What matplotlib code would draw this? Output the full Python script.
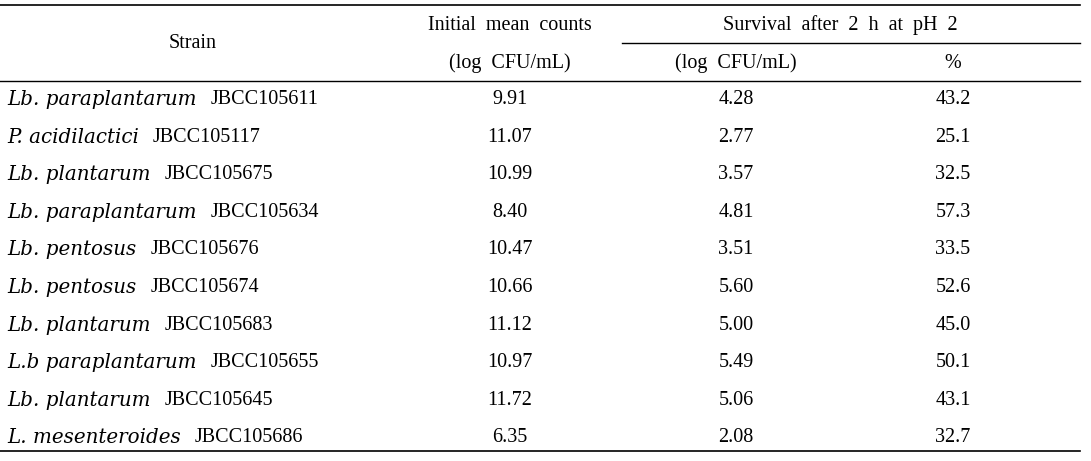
import matplotlib
matplotlib.use("Agg")
import matplotlib.pyplot as plt

species = ["Lb. paraplantarum", "P. acidilactici", "Lb. plantarum", "Lb. paraplantarum",
           "Lb. pentosus", "Lb. pentosus", "Lb. plantarum", "L.b paraplantarum",
           "Lb. plantarum", "L. mesenteroides"]
strain_ids = ["JBCC105611", "JBCC105117", "JBCC105675", "JBCC105634", "JBCC105676",
              "JBCC105674", "JBCC105683", "JBCC105655", "JBCC105645", "JBCC105686"]
initial_counts = ["9.91", "11.07", "10.99", "8.40", "10.47", "10.66", "11.12", "10.97", "11.72", "6.35"]
survival_log = ["4.28", "2.77", "3.57", "4.81", "3.51", "5.60", "5.00", "5.49", "5.06", "2.08"]
survival_pct = ["43.2", "25.1", "32.5", "57.3", "33.5", "52.6", "45.0", "50.1", "43.1", "32.7"]

W, H = 1091, 461
fig = plt.figure(figsize=(W / 100, H / 100), dpi=100)
ax = fig.add_axes([0, 0, 1, 1])
ax.set_xlim(0, W)
ax.set_ylim(H, 0)
ax.axis("off")

font = "Liberation Serif"
ifont = "DejaVu Serif"
fs = 14.5

# rules
ax.plot([0, 1080], [5, 5], color="k", lw=1.2)
ax.plot([622, 1080], [43, 43], color="k", lw=1.0)
ax.plot([0, 1080], [81, 81], color="k", lw=1.0)
ax.plot([0, 1080], [451, 451], color="k", lw=1.2)

# header
col_x = [510, 736, 953]
ax.text(193, 44, "Strain", ha="center", va="center", fontsize=fs, family=font)
ax.text(col_x[0], 25, "Initial  mean  counts", ha="center", va="center", fontsize=fs, family=font)
ax.text(col_x[0], 63, "(log  CFU/mL)", ha="center", va="center", fontsize=fs, family=font)
ax.text(840, 25, "Survival  after  2  h  at  pH  2", ha="center", va="center", fontsize=fs, family=font)
ax.text(col_x[1], 63, "(log  CFU/mL)", ha="center", va="center", fontsize=fs, family=font)
ax.text(col_x[2], 63, "%", ha="center", va="center", fontsize=fs, family=font)

renderer = fig.canvas.get_renderer()
inv = ax.transData.inverted()
row_y0, row_dy = 99.5, 37.6
for i in range(len(species)):
    y = row_y0 + i * row_dy
    t = ax.text(7, y, species[i], ha="left", va="center", fontsize=14.3, family=ifont, style="italic")
    bb = t.get_window_extent(renderer)
    x_end = inv.transform((bb.x1, 0))[0]
    ax.text(x_end + 14, y, strain_ids[i], ha="left", va="center", fontsize=fs, family=font)
    ax.text(col_x[0], y, initial_counts[i], ha="center", va="center", fontsize=fs, family=font)
    ax.text(col_x[1], y, survival_log[i], ha="center", va="center", fontsize=fs, family=font)
    ax.text(col_x[2], y, survival_pct[i], ha="center", va="center", fontsize=fs, family=font)

fig.savefig("out.png", dpi=100)
